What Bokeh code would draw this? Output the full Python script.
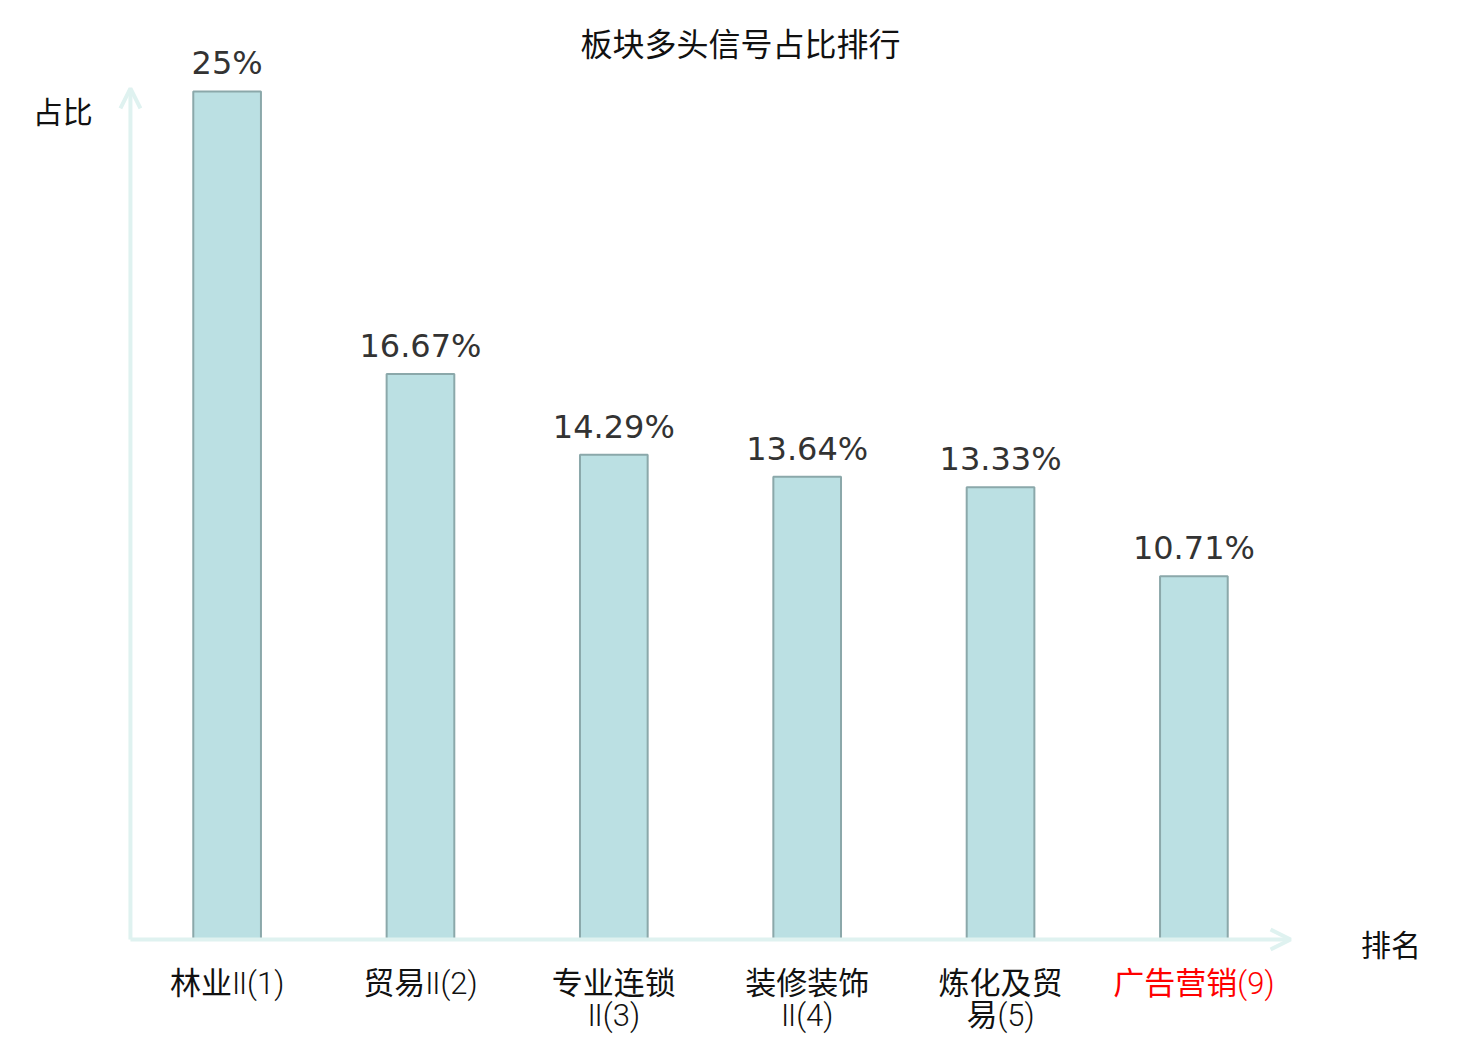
from bokeh.plotting import figure
from bokeh.models import ColumnDataSource, LabelSet, Label, Arrow, OpenHead, Range1d, FactorRange
from bokeh.core.properties import value
from bokeh.embed import file_html
from bokeh.resources import INLINE

title_text = "板块多头信号占比排行"
categories = ["林业Ⅱ(1)", "贸易Ⅱ(2)", "专业连锁\nⅡ(3)", "装修装饰\nⅡ(4)", "炼化及贸\n易(5)", "广告营销(9)"]
values = [25, 16.67, 14.29, 13.64, 13.33, 10.71]
value_labels = ["25%", "16.67%", "14.29%", "13.64%", "13.33%", "10.71%"]
label_colors = ["#111111", "#111111", "#111111", "#111111", "#111111", "#ff0000"]
y_name = "占比"
x_name = "排名"
y_max = 25.09

CJK = "Noto Sans CJK SC"
CAT_FONT = "'Roboto Light', 'Lato Light', 'DejaVu Sans', 'Noto Sans CJK SC'"
AXIS_COLOR = "#dff2f0"

line1 = [c.split("\n")[0] for c in categories]
line2 = [c.split("\n")[1] if "\n" in c else "" for c in categories]

p = figure(width=1480, height=1040, output_backend="svg", toolbar_location=None,
           x_range=FactorRange(*categories, range_padding=0.672, range_padding_units="absolute"),
           y_range=Range1d(-2.978, 27.68),
           min_border_left=0, min_border_right=60, min_border_top=0, min_border_bottom=0)
p.x_range.factor_padding = 0
p.axis.visible = False
p.grid.visible = False
p.outline_line_color = None
p.background_fill_color = "white"
p.border_fill_color = "white"

src = ColumnDataSource(dict(cat=categories, val=values, vlab=value_labels,
                            l1=line1, l2=line2,
                            zero=[0] * len(values), col=label_colors))

p.vbar(x="cat", top="val", width=0.35, source=src,
       fill_color="#bbe0e3", line_color="#8ba8aa", line_width=2)

# axes with arrow heads
n = len(categories)
p.add_layout(Arrow(x_start=0, y_start=0, x_end=n, y_end=0,
                   line_color=AXIS_COLOR, line_width=4,
                   end=OpenHead(size=20, line_color=AXIS_COLOR, line_width=4)))
p.add_layout(Arrow(x_start=0, y_start=0, x_end=0, y_end=y_max,
                   line_color=AXIS_COLOR, line_width=4,
                   end=OpenHead(size=20, line_color=AXIS_COLOR, line_width=4)))

# value labels
p.add_layout(LabelSet(x="cat", y="val", text="vlab", source=src, text_align="center",
                      text_baseline="bottom", y_offset=9, text_font=value("DejaVu Sans"),
                      text_font_size="32px", text_color="#333333"))

# category labels (two centred lines)
p.add_layout(LabelSet(x="cat", y="zero", text="l1", source=src, text_align="center",
                      text_baseline="middle", y_offset=-44, text_font=value(CAT_FONT),
                      text_font_size="31px", text_color="col"))
p.add_layout(LabelSet(x="cat", y="zero", text="l2", source=src, text_align="center",
                      text_baseline="middle", y_offset=-76, text_font=value(CAT_FONT),
                      text_font_size="31px", text_color="col"))

# axis names and title
p.add_layout(Label(x=-0.35, y=24.45, text=y_name, text_align="center", text_baseline="middle",
                   text_font=CJK, text_font_size="30px", text_color="#111111"))
p.add_layout(Label(x=6.52, y=-0.1, text=x_name, text_align="center", text_baseline="middle",
                   text_font=CJK, text_font_size="30px", text_color="#111111"))
p.add_layout(Label(x=3.155, y=26.45, text=title_text, text_align="center", text_baseline="middle",
                   text_font=CJK, text_font_size="32px", text_color="#111111"))

open("out.html", "w").write(file_html(p, INLINE))
